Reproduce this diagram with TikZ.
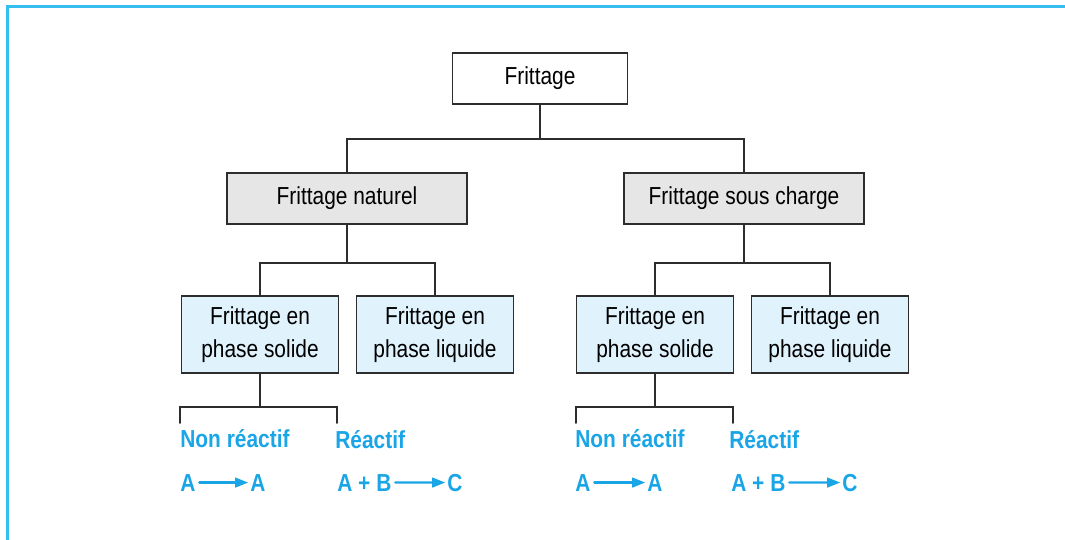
\documentclass[tikz,border=0pt]{standalone}
\usepackage{fontspec}
\setmainfont{Liberation Sans}[FakeStretch=0.85]
\usetikzlibrary{arrows.meta,positioning}

\definecolor{framecol}{RGB}{55,190,240}
\definecolor{linecol}{RGB}{45,45,45}
\definecolor{greyfill}{RGB}{230,230,230}
\definecolor{leaffill}{RGB}{224,242,252}
\definecolor{bluetext}{RGB}{25,165,230}

\begin{document}
\begin{tikzpicture}[x=0.02cm,y=-0.02cm,line cap=round,
  font=\fontsize{14}{18.7}\selectfont,
  box/.style={draw=linecol,line width=1.1pt,minimum height=1.02cm,inner sep=0pt},
  topbox/.style={box,fill=white,minimum width=3.5cm},
  midbox/.style={box,fill=greyfill,minimum width=4.8cm},
  leafbox/.style={box,fill=leaffill,minimum width=3.14cm,minimum height=1.54cm,align=center},
  link/.style={draw=linecol,line width=1.1pt},
  kind/.style={anchor=base west,inner sep=0pt,text=bluetext,font=\fontsize{14}{18.7}\selectfont\bfseries},
  react/.style={draw=bluetext,line width=1.3pt,-{Triangle[length=7.5pt,width=5.5pt]},shorten <=2pt,shorten >=1pt}]
  \useasboundingbox (0,0) rectangle (1065,539);
  % Frame
  \draw[framecol,line width=1.7pt,line cap=butt] (7.5,560) -- (7.5,6.5) -- (1090,6.5);

  % Top
  \node[topbox] (frit) at (540,78.5) {Frittage};
  \draw[link] (frit.south) -- ++(0,34) coordinate (j0);

  % Second row
  \node[midbox] (nat) at (347,198.5) {Frittage naturel};
  \node[midbox] (sc) at (744,198.5) {Frittage sous charge};
  \draw[link] (nat.north) |- (j0) -| (sc.north);

  % Left branch
  \node[leafbox] (natsol) at (260,334.5) {Frittage en\\phase solide};
  \node[leafbox] (natliq) at (435,334.5) {Frittage en\\phase liquide};
  \draw[link] (nat.south) -- ++(0,38) coordinate (j1);
  \draw[link] (natsol.north) |- (j1) -| (natliq.north);

  % Right branch
  \node[leafbox] (scsol) at (655,334.5) {Frittage en\\phase solide};
  \node[leafbox] (scliq) at (830,334.5) {Frittage en\\phase liquide};
  \draw[link] (sc.south) -- ++(0,38) coordinate (j2);
  \draw[link] (scsol.north) |- (j2) -| (scliq.north);

  % Left solid phase
  \draw[link] (natsol.south) -- ++(0,33) coordinate (j3);
  \coordinate (nrl) at (180,423);
  \coordinate (rel) at (337,423);
  \draw[link] (nrl) |- (j3) -| (rel);
  \node[kind] (nr1) at (180,447) {Non réactif};
  \node[kind] (re1) at (335,448) {Réactif};
  \node[kind] (a1) at (180,491) {A};
  \node[kind] (a2) at (250,491) {A};
  \draw[react] (a1) -- (a2);
  \node[kind] (ab1) at (337,491) {A + B};
  \node[kind] (c1) at (447,491) {C};
  \draw[react] (ab1) -- (c1);

  % Right solid phase
  \draw[link] (scsol.south) -- ++(0,33) coordinate (j4);
  \coordinate (nrr) at (576,423);
  \coordinate (rer) at (733,423);
  \draw[link] (nrr) |- (j4) -| (rer);
  \node[kind] (nr2) at (575,447) {Non réactif};
  \node[kind] (re2) at (729,448) {Réactif};
  \node[kind] (a3) at (575,491) {A};
  \node[kind] (a4) at (647,491) {A};
  \draw[react] (a3) -- (a4);
  \node[kind] (ab2) at (731,491) {A + B};
  \node[kind] (c2) at (842,491) {C};
  \draw[react] (ab2) -- (c2);
\end{tikzpicture}
\end{document}
